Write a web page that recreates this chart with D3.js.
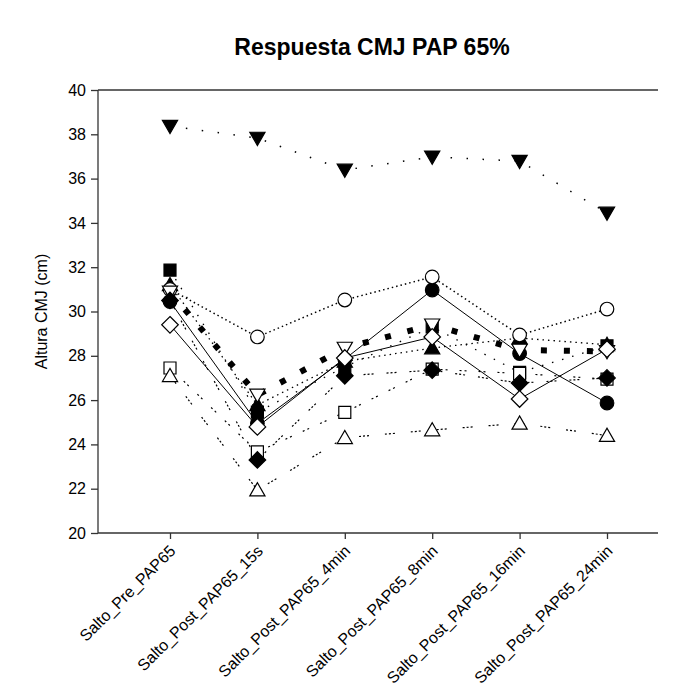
<!DOCTYPE html>
<html>
<head>
<meta charset="utf-8">
<script src="https://cdn.jsdelivr.net/npm/d3@7"></script>
<style>
  html, body { margin: 0; padding: 0; background: #fff; }
  svg { display: block; }
  text { font-family: Arial, "Liberation Sans", sans-serif; }
</style>
</head>
<body>
<svg id="chart" width="686" height="695"></svg>
<script>
const categories = ["Salto_Pre_PAP65", "Salto_Post_PAP65_15s", "Salto_Post_PAP65_4min",
  "Salto_Post_PAP65_8min", "Salto_Post_PAP65_16min", "Salto_Post_PAP65_24min"];
const yTicks = [20, 22, 24, 26, 28, 30, 32, 34, 36, 38, 40];

const filledCircle  = [30.45, 24.95, 27.85, 30.97, 28.10, 25.87];
const openCircle    = [31.00, 28.85, 30.52, 31.56, 28.94, 30.11];
const filledDown    = [38.37, 37.83, 36.39, 36.98, 36.79, 34.45];
const openDown      = [30.88, 26.23, 28.35, 29.40, 28.26, 28.20];
const filledSquare  = [31.87, 25.46, 27.50, 29.30, 27.25, 28.45];
const openSquare    = [27.45, 23.66, 25.45, 27.40, 27.20, 26.95];
const filledDiamond = [30.50, 23.30, 27.10, 27.35, 26.77, 27.00];
const openDiamond   = [29.40, 24.79, 27.90, 28.85, 26.05, 28.30];
const filledUp      = [31.20, 25.78, 27.75, 28.35, 28.80, 28.50];
const openUp        = [27.10, 21.94, 24.30, 24.65, 24.95, 24.40];

const series = [
  {values: filledCircle,  shape: "circle",  fill: true,  dash: null,             width: 1},
  {values: filledUp,      shape: "up",      fill: true,  dash: "1.5,4",          width: 1.3},
  {values: openCircle,    shape: "circle",  fill: false, dash: "1.5,3",          width: 1.5},
  {values: filledDown,    shape: "down",    fill: true,  dash: "1.5,14.5",       width: 1.5},
  {values: filledSquare,  shape: "square",  fill: true,  dash: "1.5,9",          width: 1.3},
  {values: openDown,      shape: "down",    fill: false, dash: "6,17",           width: 6},
  {values: openSquare,    shape: "square",  fill: false, dash: "2,3,2,12",       width: 1.2},
  {values: filledDiamond, shape: "diamond", fill: true,  dash: "2,2,2,2,2,13",   width: 1.2},
  {values: openDiamond,   shape: "diamond", fill: false, dash: null,             width: 1},
  {values: openUp,        shape: "up",      fill: false, dash: "2,2,2,2,2,16",   width: 1.2}
];

const svg = d3.select("#chart");
const pLeft = 98, pRight = 658, pTop = 90, pBottom = 533;

const x = d3.scaleLinear().domain([0, categories.length - 1]).range([170, 607]);
const y = d3.scaleLinear().domain([20, 40]).range([pBottom, pTop]);

// Title
svg.append("text").attr("x", 372).attr("y", 55).attr("text-anchor", "middle")
  .style("font-size", "23px").style("font-weight", "bold").text("Respuesta CMJ PAP 65%");

// Frame lines
svg.append("line").attr("x1", pLeft).attr("x2", pRight).attr("y1", pTop).attr("y2", pTop)
  .attr("stroke", "#333").attr("stroke-width", 1.3);
svg.append("line").attr("x1", pLeft).attr("x2", pRight).attr("y1", pBottom).attr("y2", pBottom)
  .attr("stroke", "#333").attr("stroke-width", 1.3);
svg.append("line").attr("x1", pLeft).attr("x2", pLeft).attr("y1", pTop).attr("y2", pBottom)
  .attr("stroke", "#333").attr("stroke-width", 1.3);

// Y axis
const yAxis = d3.axisLeft(y).tickValues(yTicks).tickSize(7).tickSizeOuter(0).tickPadding(5);
const gy = svg.append("g").attr("transform", `translate(${pLeft},0)`).call(yAxis);
gy.select(".domain").remove();
gy.selectAll("line").attr("stroke", "#333").attr("stroke-width", 1.3);
gy.selectAll("text").style("font-size", "16px").attr("fill", "#000")
  .style("font-family", "Arial, 'Liberation Sans', sans-serif");

// X axis
const xAxis = d3.axisBottom(x).tickValues(d3.range(categories.length))
  .tickFormat(i => categories[i]).tickSize(6).tickSizeOuter(0);
const gx = svg.append("g").attr("transform", `translate(0,${pBottom})`).call(xAxis);
gx.select(".domain").remove();
gx.selectAll("line").attr("stroke", "#333").attr("stroke-width", 1.3);
gx.selectAll("text").style("font-size", "16px").attr("fill", "#000")
  .style("font-family", "Arial, 'Liberation Sans', sans-serif")
  .attr("text-anchor", "end").attr("dy", null).attr("y", 0)
  .attr("transform", "translate(6,19) rotate(-45)");

// Y label
svg.append("text").attr("transform", `translate(47,${(pTop + pBottom) / 2}) rotate(-90)`)
  .attr("text-anchor", "middle").style("font-size", "16px").text("Altura CMJ (cm)");

// Lines
const line = d3.line().x((d, i) => x(i)).y(d => y(d));
series.forEach(s => {
  svg.append("path").attr("d", line(s.values)).attr("fill", "none")
    .attr("stroke", "#000").attr("stroke-width", s.width)
    .attr("stroke-dasharray", s.dash);
});

// Symbols
function shapePath(shape) {
  if (shape === "circle") return "M6.8,0A6.8,6.8 0 1,1 -6.8,0A6.8,6.8 0 1,1 6.8,0Z";
  if (shape === "square") return "M-6,-6H6V6H-6Z";
  if (shape === "down") return "M-7.6,-5.8H7.6L0,7.4Z";
  if (shape === "up") return "M-7.6,5.8H7.6L0,-7.4Z";
  if (shape === "diamond") return "M0,-8.3L8.3,0L0,8.3L-8.3,0Z";
}
series.forEach(s => {
  svg.append("g").selectAll("path").data(s.values).join("path")
    .attr("transform", (d, i) => `translate(${x(i)},${y(d)})`)
    .attr("d", shapePath(s.shape))
    .attr("fill", s.fill ? "#000" : "#fff")
    .attr("stroke", "#000").attr("stroke-width", 1.2);
});
</script>
</body>
</html>
